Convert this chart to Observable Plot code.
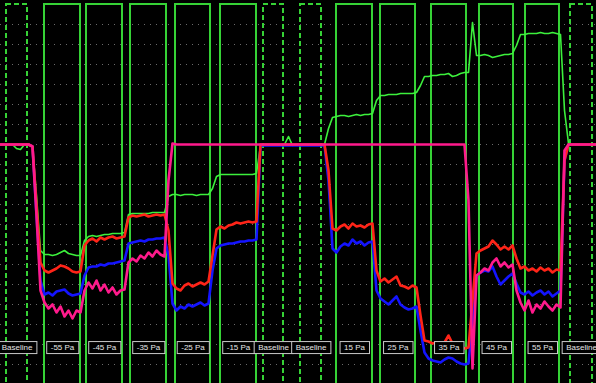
<!DOCTYPE html>
<html><head><meta charset="utf-8">
<script src="https://cdn.jsdelivr.net/npm/d3@7"></script>
<script src="https://cdn.jsdelivr.net/npm/@observablehq/plot@0.6"></script>
<style>
html,body{margin:0;padding:0;background:#000;overflow:hidden;}
#chart{width:596px;height:383px;}
</style></head><body><div id="chart"></div>
<script>
// Test windows (x in sample index units)
const segLabels = ["Baseline","-55 Pa","-45 Pa","-35 Pa","-25 Pa","-15 Pa","Baseline","Baseline","15 Pa","25 Pa","35 Pa","45 Pa","55 Pa","Baseline"];
const segStart  = [1.5, 11, 21.5, 32.5, 43.75, 55, 65.75, 75, 84, 95, 107.75, 119.75, 131.25, 142.5];
const segEnd    = [6.75, 20, 30.5, 41.5, 52.5, 64, 70.75, 80.25, 93, 103.75, 116.5, 128.25, 139.75, 148];

// Grid levels
const gridLevels = [0,20,40,60,80,100,120,140,160,180,200,220,240,260,280,300,320,340];

// Traces, one value per sample
const greenTrace = [220,220,220,220, 216,215,220,220, 218,169,114,110, 110,109,110,112, 114,111,110,109, 109,124,128,129, 128,129,130,130, 131,131,131,132, 150,151,151,151, 151,151,152,152, 152,152,168,170, 170,169,170,170, 170,169,170,170, 170,176,188,190, 190,190,190,190, 190,190,190,190, 191,219,220,220, 220,220,220,220, 228,219,220,220, 220,220,220,220, 220,220,236,247, 248,249,249,248, 249,250,249,250, 250,251,264,269, 269,270,270,270, 271,271,271,271, 272,279,288,288, 289,289,290,290, 291,288,289,291, 292,292,342,309, 309,310,309,307, 308,309,310,310, 311,319,330,330, 331,331,331,332, 331,331,332,331, 330,254,221,220, 220,220,220,220, 220,220];
const redTrace = [220,220,220,220, 220,220,220,220, 218,159,102,94, 92,94,96,99, 98,96,93,92, 93,119,124,126, 123,127,125,127, 128,126,127,128, 147,149,148,149, 150,148,149,150, 149,150,134,81, 76,74,79,81, 78,80,82,80, 83,109,135,138, 136,139,140,142, 141,142,143,142, 143,220,220,220, 220,220,220,220, 220,220,220,220, 220,220,220,220, 220,220,194,136, 134,138,140,136, 141,138,139,137, 140,141,94,83, 86,82,85,88, 79,78,76,79, 77,49,24,23, 21,22,20,22, 29,21,19,18, 16,17,64,111, 114,116,118,124, 120,115,118,115, 119,106,96,98, 94,96,93,97, 94,96,92,95, 94,204,220,220, 220,220,220,220, 220,220];
const blueTrace = [220,220,220,220, 220,220,220,220, 218,149,84,70, 72,69,73,74, 75,71,69,70, 71,89,97,98, 98,100,99,101, 101,102,103,104, 121,122,123,124, 123,125,125,126, 126,127,109,61, 54,58,56,60, 58,60,62,59, 61,94,116,119, 120,121,121,122, 123,123,124,124, 125,219,219,219, 219,219,219,219, 219,219,219,219, 219,219,219,219, 219,219,184,116, 112,118,121,119, 125,121,123,119, 122,123,74,66, 63,60,64,68, 60,57,55,56, 58,34,12,6, 4,3,2,5, 7,6,3,1, 0,1,44,89, 92,94,93,98, 88,80,84,88, 91,81,72,70, 73,69,72,74, 70,73,68,71, 74,204,220,220, 220,220,220,220, 220,220];
const pinkTrace = [220,220,220,220, 220,220,220,220, 218,149,74,62, 56,60,52,58, 48,54,46,54, 52,74,82,76, 84,74,80,72, 77,70,74,75, 102,106,103,109, 106,112,108,114, 110,108,184,221,
 220,220,220,220, 220,220,220,220, 220,220,220,220, 220,220,220,220, 220,220,220,220, 220,220,220,220,
 220,220,220,220, 220,220,220,220, 220,220,220,220, 220,220,220,220, 220,220,220,220, 220,220,220,220,
 220,220,220,220, 220,220,220,220, 220,220,220,220, 220,220,220,220, 220,220,220,220, 220,220,220,220,
 220,164,-4,89, 92,96,94,102, 106,98,102,97, 100,74,62,54, 64,52,60,56, 63,58,54,60, 57,214,220,220, 220,220,220,220, 220,220];

const segments = segLabels.map((label, i) => ({
  label, start: segStart[i], end: segEnd[i], mid: (segStart[i] + segEnd[i]) / 2, baseline: label === "Baseline"
}));
const series = [
  {values: greenTrace, color: "#3cf03c", w: 1.6},
  {values: blueTrace, color: "#1414ff", w: 2.6},
  {values: redTrace, color: "#ff2418", w: 2.6},
  {values: pinkTrace, color: "#ff1a8c", w: 2.6}
];
const rows = s => s.values.map((v, i) => ({t: i, v}));

const chart = Plot.plot({
  width: 596, height: 383, margin: 0,
  style: {background: "#000", fontFamily: "'Liberation Sans', Arial, sans-serif"},
  x: {domain: [0, 149], axis: null},
  y: {domain: [-19, 364], axis: null},
  marks: [
    Plot.ruleY(gridLevels, {stroke: "#6a6a6a", strokeDasharray: "1,5", strokeWidth: 1}),
    Plot.rect(segments.filter(d => !d.baseline), {x1: "start", x2: "end", y1: -40, y2: 360, fill: "none", stroke: "#36d236", strokeWidth: 2, clip: true}),
    Plot.rect(segments.filter(d => d.baseline), {x1: "start", x2: "end", y1: -40, y2: 360, fill: "none", stroke: "#36d236", strokeWidth: 2, strokeDasharray: "5,3", clip: true}),
    ...series.map(s => Plot.line(rows(s), {x: "t", y: "v", stroke: s.color, strokeWidth: s.w})),
    Plot.text(segments, {x: "mid", y: 17, text: "label", fill: "#e6e6e6", fontSize: 8})
  ]
});
document.getElementById("chart").append(chart);

// Label boxes behind the label texts
const textG = chart.querySelector('g[aria-label="text"]');
if (textG) {
  textG.querySelectorAll("text").forEach(t => {
    const b = t.getBBox();
    const r = document.createElementNS("http://www.w3.org/2000/svg", "rect");
    r.setAttribute("x", b.x - 4);
    r.setAttribute("y", b.y + b.height / 2 - 6);
    r.setAttribute("width", b.width + 8);
    r.setAttribute("height", 12);
    r.setAttribute("fill", "#000");
    r.setAttribute("stroke", "#c8c8c8");
    r.setAttribute("stroke-width", 1);
    const tr = t.getAttribute("transform");
    if (tr) r.setAttribute("transform", tr);
    t.parentNode.insertBefore(r, t);
  });
}
</script>
</body></html>
